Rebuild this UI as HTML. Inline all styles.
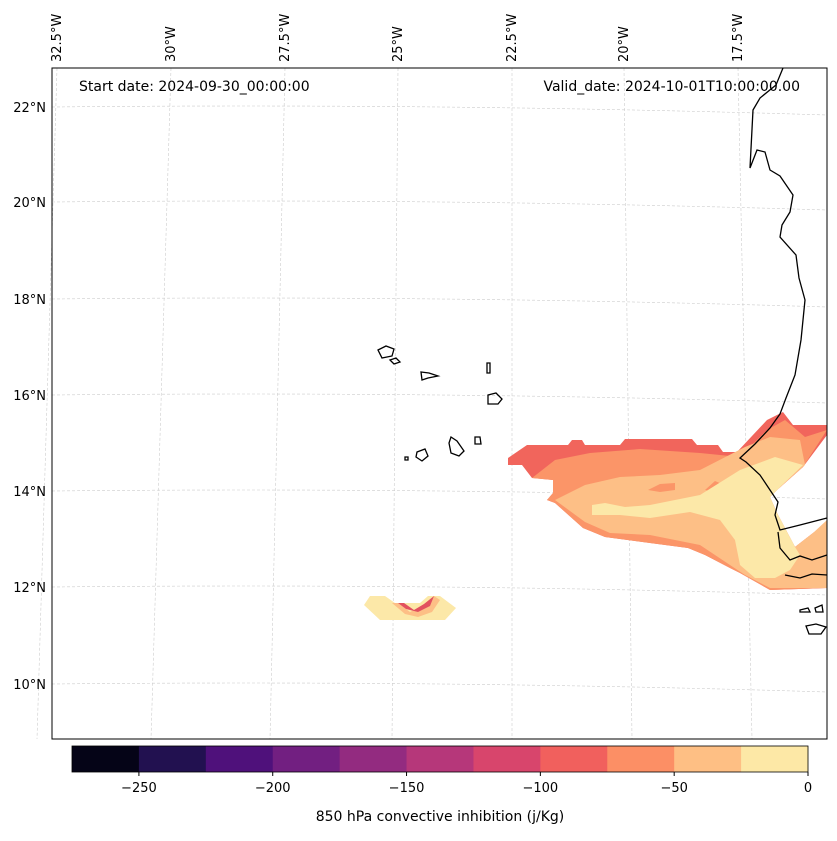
<!DOCTYPE html>
<html><head><meta charset="utf-8"><style>
body{margin:0;background:#fff;font-family:"Liberation Sans","DejaVu Sans",sans-serif;}
svg text{font-family:"DejaVu Sans","Liberation Sans",sans-serif;font-size:13px;fill:#000}
svg text.big{font-size:14px}
</style></head><body>
<svg id="c" width="837" height="836">
<g id="grid"></g>
<g id="fill">
<polygon fill="#f1655c" points="508,458 527,445 568,445 572,440 582,440 585,445 620,445 625,439 692,439 697,445 718,445 723,452 737,452 767,420 783,412 793,425 827,425 827,435 803,467 777,490 770,497 777,513 795,547 813,533 827,523 827,588 770,590 740,573 730,568 705,555 688,548 650,543 605,537 583,528 555,503 547,500 553,493 553,480 532,478 522,465 508,465"/>
<polygon fill="#fb9568" points="532,478 555,460 590,453 640,449 700,453 740,457 767,430 785,420 805,437 827,430 803,467 777,490 770,497 777,513 795,547 813,533 827,523 827,588 770,590 740,573 730,568 705,555 688,548 650,543 605,537 583,528 555,503 547,500 553,493 553,480"/>
<polygon fill="#fdbf86" points="555,500 585,485 620,477 660,475 700,470 745,447 770,437 800,440 805,465 777,490 770,497 777,513 795,547 813,533 827,520 827,588 770,588 745,575 730,565 700,545 650,535 610,533 585,522"/>
<polygon fill="#fb9568" points="648,490 660,484 675,483 675,490 660,492"/>
<polygon fill="#fb9568" points="705,490 715,481 722,484 715,492"/>
<polygon fill="#fce8a8" points="592,505 605,503 625,507 650,505 700,495 740,470 775,457 803,465 777,490 770,497 777,513 795,547 800,555 790,570 775,578 755,578 740,565 735,540 720,520 690,512 650,518 620,515 592,515"/>
<polygon fill="#fce8a8" points="364,605 370,596 385,596 395,603 420,603 428,596 440,596 456,608 445,620 380,620"/>
<polygon fill="#fdbf86" points="392,603 398,603 410,612 425,605 434,596 440,600 432,612 418,617 405,614"/>
<polygon fill="#e2505f" points="398,603 404,603 414,610 424,604 434,596 430,606 418,612 406,609"/>
</g>
<g id="coast" fill="none" stroke="#000" stroke-width="1.3">
<polyline points="783,68 776,85 760,98 753,110 750,168 757,150 765,152 770,170 780,176 793,195 790,212 782,225 780,237 796,255 799,278 805,300 801,340 795,375 786,398 780,414 770,428 755,444 740,458 746,462 760,475 770,490 778,502 775,515 780,530 800,525 827,518"/>
<polyline points="778,532 780,548 790,560 800,556 812,560 827,555"/>
<polyline points="785,575 800,578 812,574 827,575"/>
<path d="M378,350 l8,-4 8,3 -2,7 -10,2z M390,360 l6,-2 4,4 -6,2z M421,372 l8,1 9,3 -10,2 -6,2z M487,363 l3,0 0,10 -3,0z M488,395 l8,-2 6,6 -4,5 -10,0z M451,437 l6,4 7,10 -5,5 -8,-3 -2,-10z M475,437 l5,0 1,7 -6,0z M417,452 l8,-3 3,7 -6,5 -6,-4z M405,457 l3,0 0,3 -3,0z M800,610 l8,-2 2,4 -10,0z M815,608 l7,-3 1,7 -7,0z M806,626 l10,-2 10,3 -5,7 -12,0z"/>
</g>
<rect x="52" y="68" width="775" height="671" fill="none" stroke="#000" stroke-width="1"/>
<text class="big" x="79" y="91">Start date: 2024-09-30_00:00:00</text>
<text class="big" x="800" y="91" text-anchor="end">Valid_date: 2024-10-01T10:00:00.00</text>
<g id="cbar"></g>
<text class="big" x="440" y="821" text-anchor="middle">850 hPa convective inhibition (j/Kg)</text>
</svg>
<script>
const NS="http://www.w3.org/2000/svg";
const lonLabels=["32.5°W","30°W","27.5°W","25°W","22.5°W","20°W","17.5°W"];
const lonTop=[57,171,285,398,512,624,738];
const lonBot=[37,151,270,392,512,632,752];
const latLabels=["22°N","20°N","18°N","16°N","14°N","12°N","10°N"];
const latY=[107,202,299,395,491,587,684];
const levels=[-275,-250,-225,-200,-175,-150,-125,-100,-75,-50,-25,0];
const cbColors=["#050417","#221150","#4f117b","#721f81","#932b80","#b6377a","#d8456c","#f1605d","#fc8f65","#febf84","#fde8a6"];
const cbTicks=[-250,-200,-150,-100,-50,0];
const g=document.getElementById('grid'), cb=document.getElementById('cbar');
function mk(t,a,p){const e=document.createElementNS(NS,t);for(const k in a)e.setAttribute(k,a[k]);p.appendChild(e);return e;}
lonLabels.forEach((l,i)=>{
 const x1=lonTop[i],x2=lonBot[i];
 const ln=mk('line',{x1:x1,y1:68,x2:x2,y2:739,stroke:'#ccc','stroke-width':0.6,'stroke-dasharray':'3,2'},g);
 
 
 const t=mk('text',{x:0,y:0,transform:`translate(${x1+4},62) rotate(-90)`},g);
 t.textContent=l;
 
 
});
latLabels.forEach((l,i)=>{
 const y=latY[i];
 const ln=mk('path',{d:`M52,${y} Q440,${y-4} 827,${y+8}`,fill:'none',stroke:'#ccc','stroke-width':0.6,'stroke-dasharray':'3,2'},g);
 
 
 const t=mk('text',{x:46,y:y+5,'text-anchor':'end'},g);
 t.textContent=l;
 
 
});
const cx=v=>72+(v-levels[0])/(levels[levels.length-1]-levels[0])*736;
cbColors.forEach((c,i)=>{
 const r=mk('rect',{x:cx(levels[i]),y:746,width:cx(levels[i+1])-cx(levels[i])+0.5,height:26,fill:c},cb);
 
 
});
mk('rect',{x:72,y:746,width:736,height:26,fill:'none',stroke:'#000','stroke-width':0.8},cb);
cbTicks.forEach(v=>{
 mk('line',{x1:cx(v),y1:772,x2:cx(v),y2:776,stroke:'#000'},cb);
 const t=mk('text',{x:cx(v),y:792,'text-anchor':'middle'},cb);
 t.textContent=v<0?'\u2212'+Math.abs(v):String(v);
 
 
});
</script>
</body></html>
